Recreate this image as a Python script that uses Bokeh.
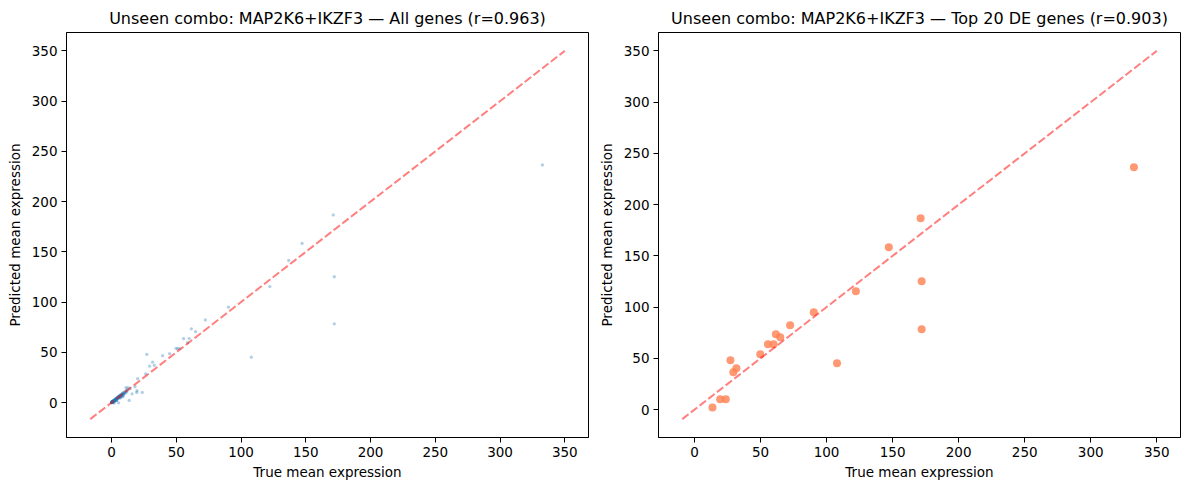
from bokeh.plotting import figure
from bokeh.layouts import row
from bokeh.models import Range1d, FixedTicker
from bokeh.embed import file_html
from bokeh.resources import INLINE

# ---------------- data ----------------
combo = "MAP2K6+IKZF3"
r_all = 0.963
r_top = 0.903

# Top 20 DE genes (true, predicted)
top_true = [13.6, 19.4, 23.7, 27.2, 29.4, 31.7, 49.8, 55.6, 59.9, 61.6,
            64.9, 72.4, 90.3, 107.9, 332.7, 171.2, 147.1, 172.0, 122.2, 172.0]
top_pred = [2.1, 10.0, 10.0, 48.0, 36.3, 40.2, 53.9, 63.7, 63.7, 73.4,
            70.5, 82.2, 94.9, 45.1, 236.5, 186.7, 158.4, 125.2, 115.4, 78.3]

# Other genes outside the dense cluster
other_true = [58.7, 51.0, 52.6, 39.4, 44.8, 33.0, 20.1, 26.3, 11.1, 12.7,
              14.2, 18.1, 19.6, 15.8, 8.5, 5.4, 136.8]
other_pred = [59.6, 53.6, 53.6, 46.6, 48.6, 37.0, 23.7, 28.6, 14.7, 14.7,
              13.7, 15.7, 11.7, 8.7, 5.7, -0.3, 141.4]

# Dense cluster of low-expression genes
cluster_true = [0.1, 0.2, 0.3, 0.4, 0.5, 0.6, 0.8, 1.0, 1.1, 1.3, 1.5, 1.6, 1.8, 2.0,
                2.2, 2.4, 2.5, 2.7, 3.0, 3.2, 3.4, 3.6, 3.9, 4.1, 4.3, 4.6, 4.8, 5.0,
                5.3, 5.5, 5.8, 6.0, 6.3, 6.6, 6.9, 7.2, 7.5, 7.8, 8.1, 8.5, 8.8, 9.2,
                9.6, 10.0, 10.4, 10.9, 11.3, 11.8, 12.2, 0.0, 0.1, 0.3, 0.5, 0.7, 0.9,
                1.2, 1.4, 1.7, 2.1, 2.6, 2.9, 3.3, 3.8, 4.4, 5.1, 5.6, 6.2, 6.8, 7.4,
                8.0, 8.7, 9.4, 2.0, 3.5, 4.0, 6.5, 7.0, 9.0, 0.2, 0.4, 0.6, 1.0, 1.5,
                2.3, 0.0, 0.1, 0.3, 0.8, 1.9, 2.8]
cluster_pred = [0.3, 0.0, 0.5, 0.2, 0.9, 0.4, 0.6, 1.3, 0.8, 1.0, 1.9, 1.2, 2.1, 1.6,
                2.6, 2.0, 2.9, 2.3, 3.4, 2.7, 3.8, 3.1, 4.3, 3.5, 4.8, 4.0, 5.3, 4.4,
                5.8, 4.9, 6.3, 5.4, 6.8, 5.9, 7.4, 6.5, 8.0, 7.1, 8.6, 7.8, 9.3, 8.4,
                10.1, 9.0, 10.9, 9.8, 11.8, 10.6, 12.6, -0.2, 0.5, -0.1, 0.2, 1.1, 0.3,
                0.7, 1.8, 1.1, 1.5, 2.2, 3.4, 2.6, 3.2, 4.9, 4.6, 6.1, 5.5, 7.3, 6.8,
                7.3, 9.4, 8.5, -0.5, 2.0, 1.8, 4.5, 5.0, 6.5, 0.0, 0.7, 0.1, 0.6, 1.2,
                1.9, 0.1, 0.2, 0.0, 0.4, 1.4, 2.3]

all_true = cluster_true + other_true + top_true
all_pred = cluster_pred + other_pred + top_pred

# identity-line extents (data units)
diag_all = [-16.5, 350.0]
diag_top = [-9.3, 350.0]

ticks = [0, 50, 100, 150, 200, 250, 300, 350]

FONT = "DejaVu Sans"


def style(p):
    p.title.text_font = FONT
    p.title.text_font_size = "16px"
    p.title.text_font_style = "normal"
    p.title.align = "center"
    p.title.text_color = "black"
    p.title.offset = 0
    for ax in (p.xaxis[0], p.yaxis[0]):
        ax.ticker = FixedTicker(ticks=ticks)
        ax.minor_tick_line_color = None
        ax.major_tick_in = 0
        ax.major_tick_out = 5
        ax.major_tick_line_color = "black"
        ax.axis_line_color = "black"
        ax.major_label_text_font = FONT
        ax.major_label_text_font_size = "13.5px"
        ax.major_label_text_color = "black"
        ax.axis_label_text_font = FONT
        ax.axis_label_text_font_size = "13.5px"
        ax.axis_label_text_font_style = "normal"
        ax.axis_label_text_color = "black"
        ax.major_label_standoff = 4
        ax.axis_label_standoff = 6
    p.xaxis[0].axis_label_standoff = 4
    p.xgrid.visible = False
    p.ygrid.visible = False
    p.outline_line_color = "black"
    p.outline_line_alpha = 1.0
    p.outline_line_width = 1
    p.background_fill_color = "white"
    p.border_fill_color = "white"


lo1 = diag_all[0] - 0.05 * (diag_all[1] - diag_all[0])
hi1 = diag_all[1] + 0.05 * (diag_all[1] - diag_all[0])
p1 = figure(width=594, height=490, output_backend="svg", toolbar_location=None,
            x_range=Range1d(lo1, hi1), y_range=Range1d(lo1, hi1),
            title=f"Unseen combo: {combo} — All genes (r={r_all:.3f})",
            x_axis_label="True mean expression",
            y_axis_label="Predicted mean expression",
            min_border_left=66, min_border_right=6, min_border_top=32, min_border_bottom=53)
p1.scatter(all_true, all_pred, size=3.3, color="#1f77b4", alpha=0.35, line_color=None)
p1.line(diag_all, diag_all, line_color="red", line_alpha=0.5, line_width=2, line_dash="8 3")
style(p1)

lo2 = diag_top[0] - 0.05 * (diag_top[1] - diag_top[0])
hi2 = diag_top[1] + 0.05 * (diag_top[1] - diag_top[0])
p2 = figure(width=595, height=490, output_backend="svg", toolbar_location=None,
            x_range=Range1d(lo2, hi2), y_range=Range1d(lo2, hi2),
            title=f"Unseen combo: {combo} — Top 20 DE genes (r={r_top:.3f})",
            x_axis_label="True mean expression",
            y_axis_label="Predicted mean expression",
            min_border_left=64, min_border_right=9, min_border_top=32, min_border_bottom=53)
p2.scatter(top_true, top_pred, size=8, color="coral", alpha=0.8, line_color=None)
p2.line(diag_top, diag_top, line_color="red", line_alpha=0.5, line_width=2, line_dash="8 3")
style(p2)

layout = row(p1, p2)
open("out.html", "w").write(file_html(layout, INLINE))
